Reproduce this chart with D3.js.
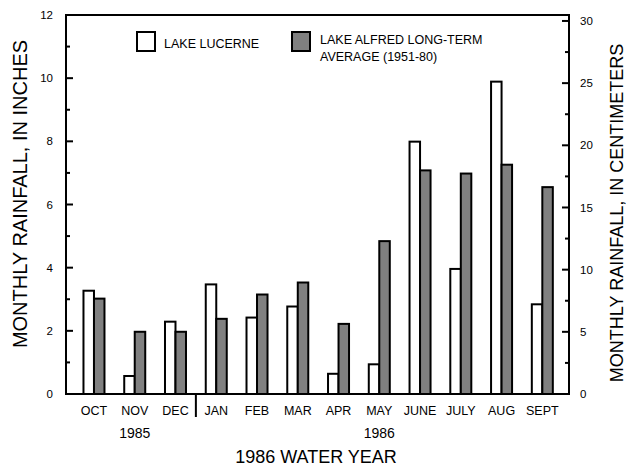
<!DOCTYPE html>
<html><head><meta charset="utf-8">
<script src="https://cdn.jsdelivr.net/npm/d3@7"></script>
<style>body{margin:0;background:#fff}svg{display:block}text{font-family:"Liberation Sans",Arial,sans-serif;fill:#000}</style>
</head><body>
<svg id="c" width="626" height="468"></svg>
<script>
const months = ["OCT","NOV","DEC","JAN","FEB","MAR","APR","MAY","JUNE","JULY","AUG","SEPT"];
const lucerne = [3.27, 0.57, 2.29, 3.47, 2.42, 2.77, 0.64, 0.94, 7.99, 3.96, 9.89, 2.84];
const alfred  = [3.02, 1.97, 1.97, 2.38, 3.15, 3.53, 2.22, 4.84, 7.08, 6.98, 7.26, 6.55];
const seriesNames = ["LAKE LUCERNE", "LAKE ALFRED LONG-TERM|AVERAGE (1951-80)"];
const inchTicks = d3.range(0, 13, 1);
const inchLabels = [0, 2, 4, 6, 8, 10, 12];
const cmTicks = d3.range(0, 30.01, 2.5);
const cmLabels = [0, 5, 10, 15, 20, 25, 30];
const yearLabels = [{t:"1985", m:"NOV"}, {t:"1986", m:"MAY"}];

const svg = d3.select("#c");
const L = 66, R = 569, T = 15, B = 394;
const y = d3.scaleLinear().domain([0, 12]).range([B, T]);
const yc = d3.scaleLinear().domain([0, 12 * 2.54]).range([B, T]);
const x = d3.scaleBand().domain(months).range([73.6, 562.7]);
const sub = d3.scaleBand().domain(["l", "a"]).range([0, 21]);
const off = (x.bandwidth() - 21) / 2;

// bars
const g = svg.append("g");
months.forEach((m, i) => {
  g.append("rect").attr("x", x(m) + off + sub("l")).attr("y", y(lucerne[i]))
    .attr("width", sub.bandwidth()).attr("height", B - y(lucerne[i]))
    .attr("fill", "#fff").attr("stroke", "#000").attr("stroke-width", 2);
  g.append("rect").attr("x", x(m) + off + sub("a")).attr("y", y(alfred[i]))
    .attr("width", sub.bandwidth()).attr("height", B - y(alfred[i]))
    .attr("fill", "#808080").attr("stroke", "#000").attr("stroke-width", 2);
});

// ticks left
inchTicks.forEach(v => {
  const len = v % 2 === 0 ? 7 : 4;
  svg.append("line").attr("x1", L).attr("x2", L + len).attr("y1", y(v)).attr("y2", y(v))
    .attr("stroke", "#000").attr("stroke-width", 2);
});
inchLabels.forEach(v => {
  svg.append("text").attr("x", 53).attr("y", y(v)).attr("dy", "0.35em")
    .attr("text-anchor", "end").attr("font-size", 11.5).text(v);
});
// ticks right
cmTicks.forEach(v => {
  const len = v % 5 === 0 ? 7 : 4;
  svg.append("line").attr("x1", R - len).attr("x2", R).attr("y1", yc(v)).attr("y2", yc(v))
    .attr("stroke", "#000").attr("stroke-width", 2);
});
cmLabels.forEach(v => {
  svg.append("text").attr("x", 580).attr("y", yc(v)).attr("dy", "0.35em")
    .attr("text-anchor", "start").attr("font-size", 11.5).text(v);
});

// frame
svg.append("rect").attr("x", L).attr("y", T).attr("width", R - L).attr("height", B - T)
  .attr("fill", "none").attr("stroke", "#000").attr("stroke-width", 2);

// month labels
months.forEach(m => {
  svg.append("text").attr("x", x(m) + x.bandwidth() / 2).attr("y", 414.5)
    .attr("text-anchor", "middle").attr("font-size", 12.5).text(m);
});
yearLabels.forEach(d => {
  svg.append("text").attr("x", x(d.m) + x.bandwidth() / 2).attr("y", 437.5)
    .attr("text-anchor", "middle").attr("font-size", 14).text(d.t);
});
// divider
svg.append("line").attr("x1", x("JAN")).attr("x2", x("JAN")).attr("y1", B).attr("y2", 417)
  .attr("stroke", "#000").attr("stroke-width", 2);

svg.append("text").attr("x", 316).attr("y", 463).attr("text-anchor", "middle")
  .attr("font-size", 18).text("1986 WATER YEAR");

svg.append("text").attr("transform", "translate(27,194) rotate(-90)")
  .attr("text-anchor", "middle").attr("font-size", 20).text("MONTHLY RAINFALL, IN INCHES");
svg.append("text").attr("transform", "translate(623,213) rotate(-90)")
  .attr("text-anchor", "middle").attr("font-size", 18).text("MONTHLY RAINFALL, IN CENTIMETERS");

// legend
const lg = svg.append("g");
lg.append("rect").attr("x", 137).attr("y", 32).attr("width", 18).attr("height", 19)
  .attr("fill", "#fff").attr("stroke", "#000").attr("stroke-width", 2);
lg.append("text").attr("x", 164).attr("y", 47.5).attr("font-size", 12.5).text(seriesNames[0]);
lg.append("rect").attr("x", 292).attr("y", 32).attr("width", 18).attr("height", 19)
  .attr("fill", "#808080").attr("stroke", "#000").attr("stroke-width", 2);
seriesNames[1].split("|").forEach((s, i) => {
  lg.append("text").attr("x", 320).attr("y", 43.5 + i * 17.5).attr("font-size", 12.5).text(s);
});
</script>
</body></html>
